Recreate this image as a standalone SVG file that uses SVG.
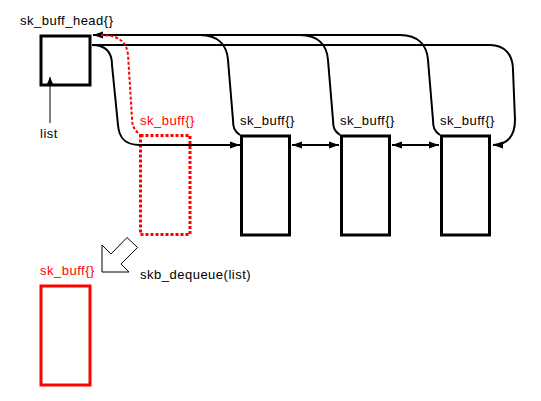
<svg xmlns="http://www.w3.org/2000/svg" width="541" height="401" viewBox="0 0 541 401">
<style>
text{font-family:"Liberation Sans",Arial,sans-serif;font-size:13px;letter-spacing:0.5px;fill:#000}
text.red{fill:#ff0000}
.box{fill:none;stroke:#000;stroke-width:3}
.conn{fill:none;stroke:#000;stroke-width:2}
</style>
<defs>
<marker id="ah" markerUnits="userSpaceOnUse" markerWidth="10" markerHeight="8" refX="10" refY="4" orient="auto-start-reverse">
<path d="M0,0.5 L10,4 L0,7.5 z" fill="#000"/>
</marker>
<marker id="ahs" markerUnits="userSpaceOnUse" markerWidth="7" markerHeight="7" refX="7" refY="3.5" orient="auto">
<path d="M0,0.5 L7,3.5 L0,6.5 z" fill="#000"/>
</marker>
</defs>
<rect width="541" height="401" fill="#fff"/>
<g id="head">
<rect class="box" x="41" y="36" width="49" height="49"/>
<text x="20" y="25">sk_buff_head{}</text>
</g>
<g id="list-label">
<text x="40" y="138">list</text>
</g>
<g id="skb-dequeued">
<rect x="140.5" y="135.5" width="49.5" height="99" fill="none" stroke="#ff0000" stroke-width="3" stroke-dasharray="3,2"/>
<text class="red" x="140" y="125">sk_buff{}</text>
</g>
<g id="skb1">
<rect class="box" x="241.5" y="136" width="48" height="99"/>
<text x="240" y="125">sk_buff{}</text>
</g>
<g id="skb2">
<rect class="box" x="341.5" y="136" width="48" height="99"/>
<text x="340" y="125">sk_buff{}</text>
</g>
<g id="skb3">
<rect class="box" x="441.5" y="136" width="48" height="99"/>
<text x="440" y="125">sk_buff{}</text>
</g>
<g id="skb-result">
<rect x="41" y="286" width="49" height="99" fill="none" stroke="#ff0000" stroke-width="3"/>
<text class="red" x="40" y="275">sk_buff{}</text>
</g>
<g id="dequeue-op">
<polygon points="102,245 102,272 129,272 121,264 137.5,247.5 127,237.5 111,254" fill="#fff" stroke="#000" stroke-width="1"/>
<text x="140" y="279">skb_dequeue(list)</text>
</g>
<g id="connectors">
<path class="conn" d="M400,35 L93,35" marker-end="url(#ah)"/>
<path class="conn" d="M240,135 C234,131 233,127 233,120 L228,60 C227,45 218,35 200,35"/>
<path class="conn" d="M340,135 C334,131 333,127 333,120 L328,60 C327,45 318,35 300,35"/>
<path class="conn" d="M440,135 C434,131 433,127 433,120 L428,60 C427,45 418,35 400,35"/>
<path class="conn" d="M92,45 L490,45 C505,45 513,55 513,70 L515,120 C515,135 508,145 493,145" marker-end="url(#ah)"/>
<path class="conn" d="M92,45 C105,45 112,52 112,65 L118,125 C119,138 125,145 140,145 L240,145" marker-end="url(#ah)"/>
<path class="conn" d="M292,145 L339,145" marker-start="url(#ah)" marker-end="url(#ah)"/>
<path class="conn" d="M392,145 L439,145" marker-start="url(#ah)" marker-end="url(#ah)"/>
<path d="M138,133 C133,128 132,124 132,118 L128,55 C127,42 118,35 101,35" fill="none" stroke="#ff0000" stroke-width="2" stroke-dasharray="3,2"/>
<path d="M50,123 L50,77" fill="none" stroke="#000" stroke-width="1" marker-end="url(#ahs)"/>
</g>
</svg>
